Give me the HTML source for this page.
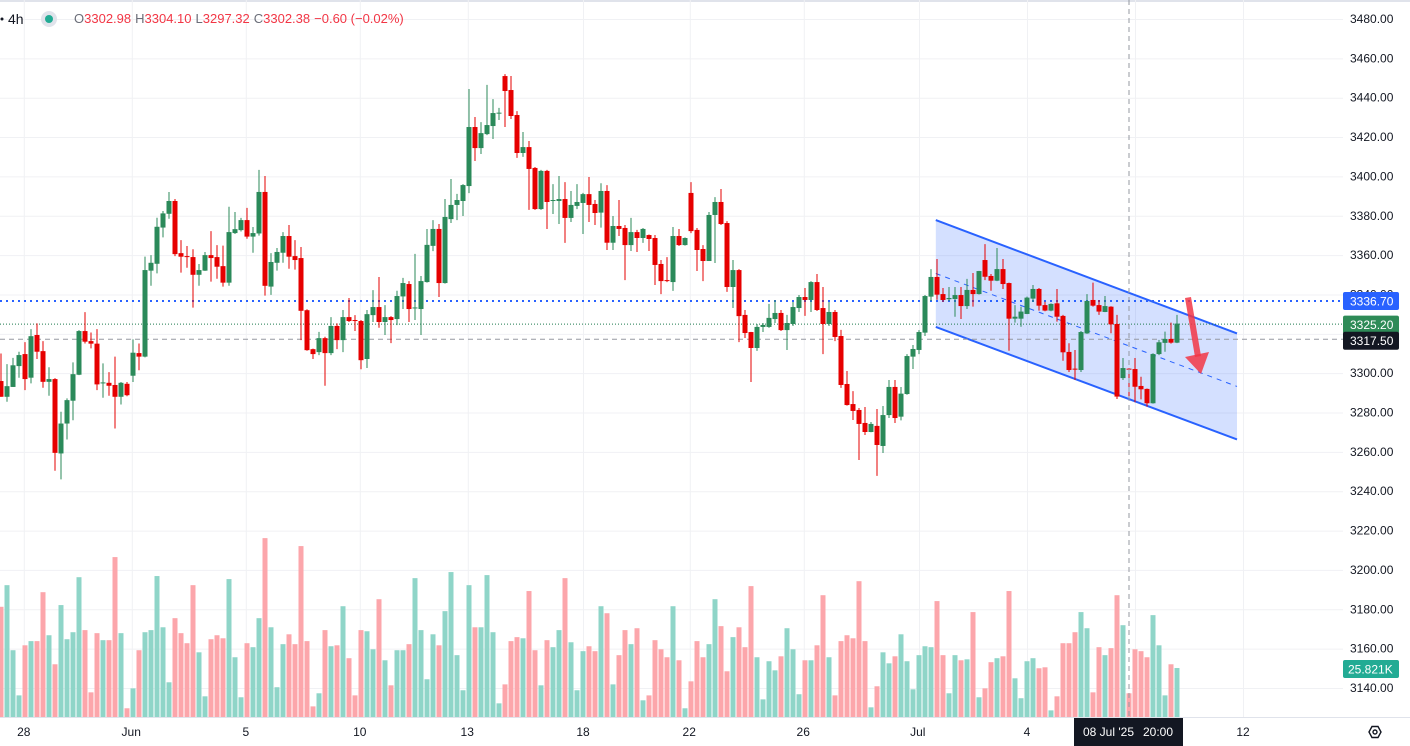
<!DOCTYPE html>
<html><head><meta charset="utf-8"><title>XAUUSD 4h</title>
<style>
html,body{margin:0;padding:0;background:#fff;width:1410px;height:746px;overflow:hidden;}
#chart{position:absolute;left:0;top:0;}
text{font-family:"Liberation Sans",sans-serif;}
</style></head>
<body>
<svg id="chart" width="1410" height="746" xmlns="http://www.w3.org/2000/svg">
  <rect x="0" y="0" width="1410" height="746" fill="#ffffff"/>
  <rect x="0" y="0" width="1410" height="2" fill="#e0e3eb"/>
  <g id="grid"></g>
  <g id="volumes"></g>
  <g id="channel"></g>
  <g id="levels"></g>
  <g id="candles"></g>
  <g id="arrow">
    <polygon points="1185,298 1191,297 1201,356 1195,357" fill="#f23645" fill-opacity="0.85"/>
    <polygon points="1185,357 1209,352 1201,374" fill="#f23645" fill-opacity="0.85"/>
  </g>
  <line x1="1129" y1="0" x2="1129" y2="717" stroke="#9598a1" stroke-width="1" stroke-dasharray="5,4"/>
  <g id="yaxis"></g>
  <g id="xaxis"></g>
  <g>
    <circle cx="2" cy="19" r="1.5" fill="#131722"/>
    <text x="8" y="24" font-size="14" fill="#131722">4h</text>
    <circle cx="49" cy="19" r="8" fill="#e0e3eb"/>
    <circle cx="49" cy="19" r="4" fill="#22ab94"/>
    <text x="74" y="23" font-size="13"><tspan fill="#6a6d78">O</tspan><tspan fill="#f23645">3302.98</tspan><tspan fill="#6a6d78" dx="4">H</tspan><tspan fill="#f23645">3304.10</tspan><tspan fill="#6a6d78" dx="4">L</tspan><tspan fill="#f23645">3297.32</tspan><tspan fill="#6a6d78" dx="4">C</tspan><tspan fill="#f23645">3302.38</tspan><tspan fill="#f23645" dx="4">−0.60 (−0.02%)</tspan></text>
  </g>
</svg>
<script>
// ---- data ----
const opens  = [3296,3288,3293,3303.6,3309.7,3297.7,3319.4,3311.2,3295.6,3297,3259.2,3274.4,3286,3299.2,3321.4,3316.3,3315,3295,3295.1,3294,3288,3294.6,3298.7,3310.2,3308.4,3352.1,3355.6,3374,3381,3387.5,3361,3359.5,3359,3350,3352.1,3360,3359,3354.4,3346,3371.2,3372.7,3377.8,3369.4,3371,3392.1,3344,3356.1,3361.2,3369.7,3359.5,3358.5,3332,3312.2,3310.7,3317.8,3310.2,3324,3316.8,3328.5,3327,3326.5,3307.2,3329.5,3333.6,3326,3328.5,3327.5,3339,3345.3,3333,3332.6,3346.3,3364.7,3373.3,3345.8,3378.3,3385.5,3387.5,3395.1,3425.1,3414.4,3421.5,3425.6,3432,3451,3443.9,3431.2,3411.9,3414.9,3404.3,3383.4,3402.8,3387.5,3387.5,3388.5,3378.9,3385,3386.5,3391,3386,3381.6,3392.6,3366.3,3374.8,3373.8,3365.1,3371.7,3368.7,3370.2,3368.7,3355.5,3347.3,3346.3,3369.7,3365.1,3391.6,3372.8,3363.1,3357,3380.4,3387,3376.3,3343.8,3352.4,3329.6,3320.9,3312.8,3323.5,3323.5,3327.5,3330.6,3321.9,3325,3333.1,3338.7,3337.2,3346.3,3333.1,3325,3331.1,3318.9,3294.5,3284.3,3281.3,3274.7,3270.1,3273.2,3263,3278.7,3293,3277.9,3289.4,3308.4,3311.8,3320.6,3338.9,3348.9,3340.2,3337.6,3337.7,3339.7,3334.1,3342.3,3340.2,3357.5,3349.4,3347,3352.9,3345.8,3327.7,3327.7,3330.1,3337.9,3342.8,3334.6,3331.8,3335.5,3329.1,3310.8,3302.3,3301.6,3320.2,3337.2,3334.6,3331.1,3333.8,3325,3297.5,3302.3,3302.1,3293.5,3292,3284.7,3309.7,3315.4,3317.4,3315.5];
const highs  = [3310,3304.6,3307.8,3310.9,3315.8,3322.4,3325.3,3316.3,3303,3297.5,3280.4,3287.2,3305.5,3321.9,3331,3320.7,3322.4,3305,3300.5,3308.4,3295.5,3295.5,3317.2,3315.1,3359.2,3360,3379,3382.4,3392.1,3388.5,3367.6,3364.6,3363,3355.5,3361.6,3372.2,3365.1,3364.8,3384.6,3381.9,3378.9,3384,3374.3,3403.3,3400.2,3361,3363.6,3371.7,3375.3,3367.6,3364.1,3332.5,3312.5,3321,3318.5,3328.5,3325.3,3332.1,3338.2,3329.5,3327,3332.1,3342.2,3348.9,3334.6,3329,3341.9,3348.4,3346.8,3360.6,3349.4,3373.3,3377.8,3375.8,3388.5,3398.7,3391.1,3396.1,3444.4,3430.2,3427.6,3446.5,3439.3,3434.8,3452,3451,3433.2,3422.6,3418,3404.8,3403.3,3403.3,3396.1,3400.2,3397.1,3392.6,3396.1,3391.6,3399.7,3388,3396.5,3395.6,3379.9,3388,3375.3,3378.9,3372.8,3373.8,3370.5,3370.2,3357.5,3359,3374.3,3373.3,3369,3397.1,3373.8,3365.1,3381.9,3389.5,3393.6,3377.3,3357.5,3352.9,3332.1,3321,3325,3325.5,3335.2,3337.2,3332.1,3329.6,3336.2,3339.7,3343.3,3346.8,3350.4,3343.8,3336.2,3332.1,3322,3301.1,3290.9,3282.3,3282.8,3275.2,3281.8,3283.3,3296.5,3296.5,3293,3309.7,3314.3,3321.9,3339.7,3352.9,3358,3343.3,3343.8,3343.8,3343.8,3347.9,3350.9,3352,3365.6,3350.4,3363.6,3358,3346,3334.6,3333.8,3338.9,3344.8,3343.3,3336.3,3335.5,3342.8,3329.6,3315.2,3311.8,3321.4,3340.2,3346,3337.2,3339.2,3334,3329.6,3307.7,3302.5,3307.7,3298.2,3292.2,3310.1,3316.9,3321.1,3325.7,3329.6];
const lows   = [3288,3285.5,3293,3297.7,3291.4,3294.8,3307.2,3292.6,3288.5,3250.4,3246,3266.3,3276.1,3299,3315.1,3312.6,3291.4,3287.5,3288.5,3271.9,3284.1,3288.3,3295.5,3301.5,3308,3344.4,3350.7,3369,3378.5,3359.5,3351.1,3353.6,3333.3,3344.4,3352,3346.5,3348,3344,3344.4,3370.7,3372,3368.3,3361.2,3369.9,3339.4,3339.8,3352.1,3356.1,3353.1,3352.6,3316.8,3311.4,3307.2,3309.2,3293.6,3309.2,3312.2,3310.7,3326,3321.4,3302,3302.6,3326,3323.1,3319.4,3315.3,3324.4,3332.6,3326,3327,3319.4,3346,3362,3338.7,3345.5,3376.3,3377.8,3379.9,3391.5,3407.8,3411.4,3421,3419,3428.7,3425.1,3429.2,3409.4,3409.9,3383,3383,3383,3373.3,3380.9,3375.8,3366.2,3376.8,3383.4,3370.7,3376.8,3375.3,3374,3362.6,3362.6,3369.7,3347.3,3362.1,3361.6,3366.2,3362.1,3344.8,3340.2,3346.3,3341.8,3364.6,3364.8,3371.2,3351.9,3346.8,3357,3356,3375.3,3341.3,3333.1,3315.8,3317.9,3295.5,3311.3,3320.9,3323,3325.5,3321.4,3311.8,3324,3331.1,3329.1,3331.1,3331.6,3309.7,3324,3316.3,3292.5,3283.5,3276.2,3255.9,3268.6,3270,3247.8,3259.4,3277.2,3274.7,3276,3289,3302.1,3309.7,3318.9,3336.7,3337.3,3336.2,3336.7,3328.7,3327.5,3332.6,3333.8,3340,3347.3,3341.9,3346.8,3342.8,3311.4,3325.7,3323.6,3330,3336.2,3331.8,3331.5,3331.5,3326.2,3306.3,3300.6,3296.5,3300.6,3320,3333.8,3329.6,3331,3320.3,3286.9,3296.5,3286.4,3285.2,3286.7,3283,3284.5,3309.2,3310.9,3315,3315.3];
const closes = [3288,3293.4,3304,3309.2,3297,3318.8,3310.9,3295.6,3297,3259.5,3274.4,3286.3,3299.5,3321.4,3316,3315,3294.3,3295.3,3293.6,3288,3295.1,3288.8,3310.4,3308.4,3352.4,3356.1,3374.4,3381.2,3387.5,3360.5,3359.2,3359.2,3350,3352.4,3360,3358.5,3354.1,3346,3371.7,3373.2,3377.8,3369.4,3371.2,3392.1,3344.4,3356.5,3361.6,3369.7,3359.2,3357.5,3331.7,3311.7,3309.7,3317.8,3310.2,3324,3316.8,3328.5,3326.5,3326.5,3306.6,3330,3333.6,3326,3328.5,3327,3339.2,3345.8,3332.6,3333.4,3346.8,3365.2,3373.3,3345.8,3379.4,3385.5,3388,3395.6,3425.1,3414.4,3422,3426.1,3432.2,3432.4,3443.4,3430.7,3411.9,3414.9,3403.8,3383.4,3402.8,3387,3388,3388.5,3378.9,3385.5,3387,3391,3385.5,3381.4,3392.6,3366.3,3374.8,3373.3,3365.1,3371.7,3368.7,3373.3,3368.2,3355,3346.8,3346.8,3369.7,3365.1,3368.7,3372.2,3362.6,3357,3380.4,3387,3375.8,3343.8,3352.4,3329,3320.4,3312.8,3323.5,3324.5,3328.1,3330.6,3321.9,3325.5,3333.6,3338.7,3337.2,3346.3,3332.1,3325,3331.1,3318.4,3294,3283.8,3280.8,3274.2,3270.1,3274.2,3263.5,3278.7,3293,3277.2,3289.6,3308.7,3312.3,3320.9,3339.2,3348.9,3339.9,3337.2,3338.2,3339.7,3334.1,3342.3,3340.2,3351.9,3349,3347,3352.9,3345.3,3327.7,3328.7,3331.3,3338.4,3342.8,3334.3,3331.8,3335.2,3328.7,3310.6,3301.6,3301.9,3320.9,3336.7,3334.3,3331.3,3334.1,3324.8,3288.1,3302.6,3301.9,3293.1,3291.8,3284.7,3309.7,3315.7,3317.4,3315.5,3325.2];
const volumes = [58.1,69.5,35.2,11.4,37.8,40.0,40.0,65.8,43.1,27.8,59.0,41.0,44.7,73.7,45.8,13.0,44.2,40.5,40.5,84.3,44.2,4.6,15.1,35.2,44.7,45.8,74.3,47.3,18.3,52.1,44.2,38.9,69.5,34.1,10.9,41.0,43.1,41.5,72.7,31.5,10.4,38.9,36.8,52.1,94.3,47.3,15.7,38.4,43.6,38.4,90.1,40.0,5.6,12.5,45.8,37.3,37.8,58.4,31.0,11.4,45.8,45.2,35.7,62.1,29.9,16.7,35.2,35.2,38.4,73.2,45.8,19.9,43.6,37.8,55.8,76.4,32.6,14.1,69.5,47.3,47.3,74.8,44.7,7.2,17.2,40.0,42.1,41.5,66.4,35.2,16.7,40.5,36.8,45.8,73.2,39.4,14.1,34.7,37.3,34.7,58.4,54.7,17.2,32.6,45.8,38.4,46.8,8.8,11.4,40.5,35.7,31.5,58.4,29.9,4.6,18.8,40.0,31.5,38.4,62.1,47.9,24.1,42.1,47.3,36.8,69.0,31.5,9.3,29.4,24.6,32.0,46.8,35.7,12.0,29.9,29.9,37.8,64.2,31.5,11.4,40.0,43.1,41.5,71.6,40.0,5.1,16.2,34.1,28.3,32.0,43.6,29.4,14.6,32.6,37.3,36.8,61.1,32.6,12.5,32.6,29.9,30.4,55.3,10.4,15.1,28.9,31.0,32.0,66.4,20.4,9.9,29.4,31.0,25.7,26.2,3.5,10.9,38.9,38.9,44.7,55.3,46.8,13.0,36.8,32.6,36.3,64.2,48.4,12.5,35.7,34.7,31.5,53.7,37.8,11.4,27.8,25.821];
const priceTicks = [3480,3460,3440,3420,3400,3380,3360,3340,3320,3300,3280,3260,3240,3220,3200,3180,3160,3140];
const timeLabels = ["28","Jun","5","10","13","18","22","26","Jul","4","12"];
const timeLabelBars = [3.8,21.7,40.8,59.8,77.7,97,114.7,133.7,152.8,171,207];
const gridBars = [3.8,21.8,40.8,59.8,77.8,97,114.8,133.8,153,171,189,207];
const channelStart = {bar:155.8, upper:3377.8, lower:3323.5};
const channelEnd   = {bar:206, upper:3320.2, lower:3266.3};
const levelBlue = 3336.70, levelLast = 3325.20, levelCross = 3317.50;
const lastVolume = "25.821K";

// ---- scales ----
const NS = "http://www.w3.org/2000/svg";
const PLOT_R = 1343, PLOT_B = 717;
function xScale(i){ return 1 + 6*i; }
function yScale(p){ return 19 + (3480 - p) * 1.9676; }
function vScale(v){ return PLOT_B - v * 1.897; }
function mk(tag, attrs, parent){ const e=document.createElementNS(NS,tag); for(const k in attrs) e.setAttribute(k,attrs[k]); parent.appendChild(e); return e; }

const grid=document.getElementById('grid');
priceTicks.forEach(p=>{
  const l=mk('line',{x1:0,x2:PLOT_R,y1:yScale(p)+0.5,y2:yScale(p)+0.5,stroke:'#f0f1f4','stroke-width':1},grid);
  
  
});
gridBars.forEach(b=>{
  const l=mk('line',{x1:xScale(b)+0.5,x2:xScale(b)+0.5,y1:0,y2:PLOT_B,stroke:'#f0f1f4','stroke-width':1},grid);
  
  
});

// volumes
const vg=document.getElementById('volumes');
volumes.forEach((v,i)=>{
  const up = closes[i] >= opens[i];
  const y=vScale(v);
  const r=mk('rect',{x:xScale(i)-2.5,y:y,width:5,height:PLOT_B-y,fill:up?'#8fd5c8':'#fca6ab'},vg);
  
  
});

// channel
const cg=document.getElementById('channel');
const x0=xScale(channelStart.bar), x1=xScale(channelEnd.bar);
const u0=yScale(channelStart.upper), l0=yScale(channelStart.lower), u1=yScale(channelEnd.upper), l1=yScale(channelEnd.lower);
const poly=mk('polygon',{points:`${x0},${u0} ${x1},${u1} ${x1},${l1} ${x0},${l0}`,fill:'#2962ff','fill-opacity':0.2},cg);


const up1=mk('line',{x1:x0,y1:u0,x2:x1,y2:u1,stroke:'#2962ff','stroke-width':2},cg);


const lo1=mk('line',{x1:x0,y1:l0,x2:x1,y2:l1,stroke:'#2962ff','stroke-width':2},cg);


const mid=mk('line',{x1:x0,y1:(u0+l0)/2,x2:x1,y2:(u1+l1)/2,stroke:'#2962ff','stroke-width':1,'stroke-dasharray':'5,5'},cg);



// levels
const lg=document.getElementById('levels');
const bl=mk('line',{x1:0,x2:PLOT_R,y1:yScale(levelBlue),y2:yScale(levelBlue),stroke:'#2962ff','stroke-width':2,'stroke-dasharray':'2,4'},lg);


const gl=mk('line',{x1:0,x2:PLOT_R,y1:yScale(levelLast)+0.5,y2:yScale(levelLast)+0.5,stroke:'#1e7a4f','stroke-width':1,'stroke-dasharray':'1,2'},lg);


const xl=mk('line',{x1:0,x2:PLOT_R,y1:yScale(levelCross)+0.5,y2:yScale(levelCross)+0.5,stroke:'#9598a1','stroke-width':1,'stroke-dasharray':'5,4'},lg);



// candles
const kg=document.getElementById('candles');
opens.forEach((o,i)=>{
  const c=closes[i], up=c>=o, col=up?'#2b8a5a':'#e60000', x=xScale(i);
  const w=mk('line',{x1:x,x2:x,y1:yScale(highs[i]),y2:yScale(lows[i]),stroke:col,'stroke-width':1},kg);
  
  
  const top=yScale(Math.max(o,c)), bot=yScale(Math.min(o,c));
  const b=mk('rect',{x:x-2.5,y:top,width:5,height:Math.max(1,bot-top),fill:col},kg);
  
  
});

// y axis
const yg=document.getElementById('yaxis');
priceTicks.forEach(p=>{
  const t=mk('text',{x:1350,y:yScale(p)+4,'font-size':12,fill:'#131722'},yg);
  t.textContent=p.toFixed(2);
  
  
});
function tag(price,color,txt,name){
  const y=yScale(price);
  const r=mk('rect',{x:1343,y:y-9,width:56,height:18,rx:2,fill:color},yg);
  
  
  const t=mk('text',{x:1350,y:y+4.5,'font-size':12,fill:'#ffffff'},yg);
  t.textContent=txt;
  
  
}
tag(levelBlue,'#2962ff',levelBlue.toFixed(2),'level-price-label');
tag(levelLast-0.5,'#2e8b57',levelLast.toFixed(2),'last-price-label');
tag(levelCross-1,'#131722',levelCross.toFixed(2),'crosshair-price-label');
const vb=mk('rect',{x:1343,y:660,width:56,height:18,rx:2,fill:'#22ab94'},yg);


const vt=mk('text',{x:1348,y:673.5,'font-size':12,fill:'#ffffff'},yg);
vt.textContent=lastVolume;



// x axis
const xg=document.getElementById('xaxis');
const axl=mk('line',{x1:0,x2:1410,y1:717.5,y2:717.5,stroke:'#e0e3eb','stroke-width':1},xg);


timeLabels.forEach((s,k)=>{
  const t=mk('text',{x:xScale(timeLabelBars[k]),y:736,'font-size':12,fill:'#131722','text-anchor':'middle'},xg);
  t.textContent=s;
  
  
});
const tb=mk('rect',{x:1074,y:718,width:109,height:28,fill:'#131722'},xg);


const td=mk('text',{x:1083,y:736,'font-size':12,fill:'#ffffff'},xg);
td.textContent="08 Jul '25";


const th=mk('text',{x:1143,y:736,'font-size':12,fill:'#ffffff'},xg);
th.textContent="20:00";


const gear=mk('g',{},xg);


mk('polygon',{points:'1369,732 1372,726.5 1378,726.5 1381,732 1378,737.5 1372,737.5',fill:'none',stroke:'#131722','stroke-width':1.4},gear);
mk('circle',{cx:1375,cy:732,r:2,fill:'none',stroke:'#131722','stroke-width':1.4},gear);
</script>
</body></html>
